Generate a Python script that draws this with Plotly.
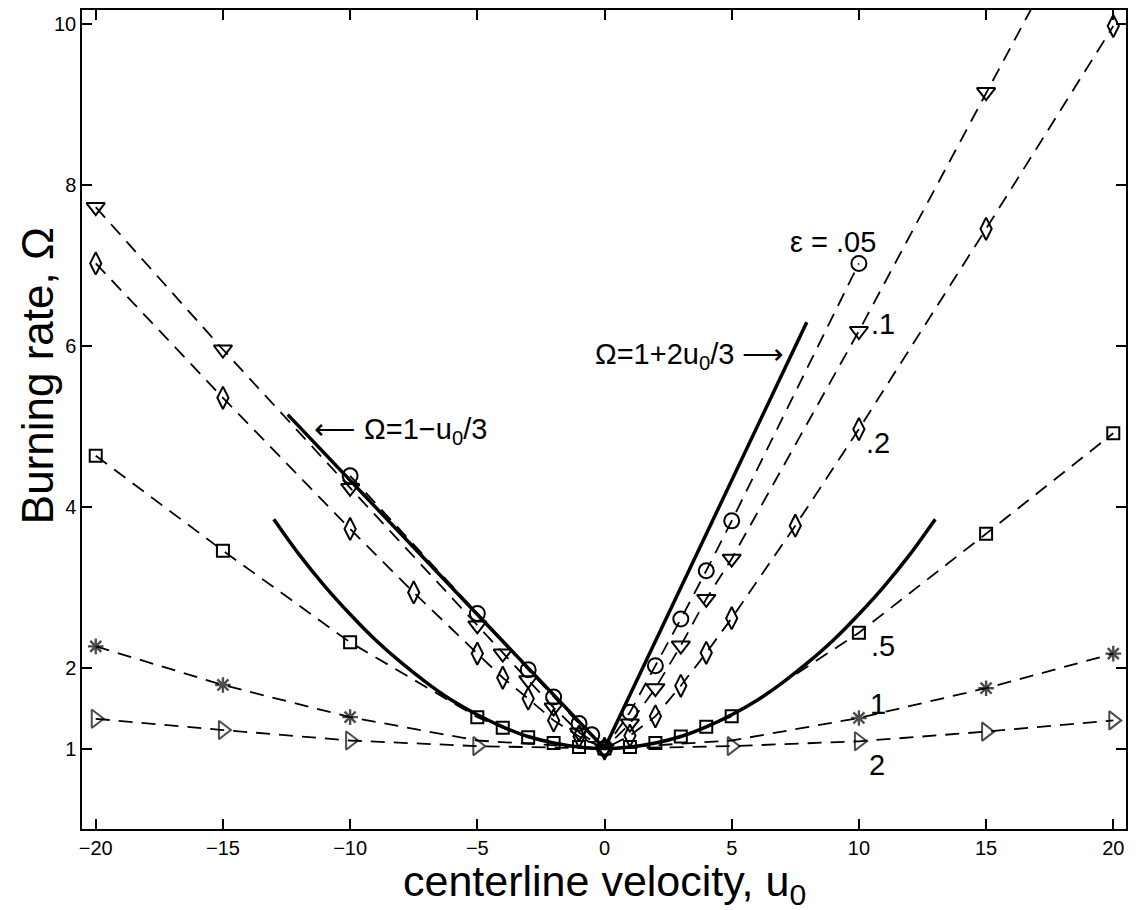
import plotly.graph_objects as go

# ---- data ----
u_e05 = [-10, -5, -3, -2, -1, -0.5, 0, 1, 2, 3, 4, 5, 10]
w_e05 = [4.39, 2.68, 1.98, 1.64, 1.31, 1.17, 1.0, 1.45, 2.03, 2.61, 3.21, 3.83, 7.03]

u_e1 = [-20, -15, -10, -5, -4, -3, -2, -1, 0, 1, 2, 3, 4, 5, 10, 15, 20]
w_e1 = [7.73, 5.96, 4.24, 2.53, 2.18, 1.85, 1.51, 1.20, 1.0, 1.31, 1.75, 2.28, 2.86, 3.36, 6.19, 9.16, 12.1]

u_e2 = [-20, -15, -10, -7.5, -5, -4, -3, -2, -1, 0, 1, 2, 3, 4, 5, 7.5, 10, 15, 20]
w_e2 = [7.03, 5.36, 3.73, 2.94, 2.18, 1.88, 1.62, 1.35, 1.15, 1.0, 1.16, 1.40, 1.78, 2.19, 2.62, 3.77, 4.97, 7.46, 9.98]

u_e5 = [-20, -15, -10, -5, -4, -3, -2, -1, 0, 1, 2, 3, 4, 5, 10, 15, 20]
w_e5 = [4.64, 3.46, 2.32, 1.39, 1.26, 1.14, 1.07, 1.02, 1.0, 1.02, 1.07, 1.15, 1.27, 1.40, 2.44, 3.67, 4.92]

u_e10 = [-20, -15, -10, -5, 0, 5, 10, 15, 20]
w_e10 = [2.27, 1.79, 1.39, 1.10, 1.0, 1.10, 1.38, 1.75, 2.18]
show_e10 = [1, 1, 1, 0, 0, 0, 1, 1, 1]

u_e20 = [-20, -15, -10, -5, 0, 5, 10, 15, 20]
w_e20 = [1.37, 1.23, 1.10, 1.03, 1.0, 1.03, 1.09, 1.21, 1.35]
show_e20 = [1, 1, 1, 1, 0, 1, 1, 1, 1]

# asymptotic lines and the small-epsilon curve
u_left = [-12.45, 0]
w_left = [5.15, 1.0]
u_right = [0, 7.95]
w_right = [1.0, 6.30]
u_par = [-13, -12, -11, -10, -9, -8, -7, -6, -5, -4, -3, -2, -1, 0,
         1, 2, 3, 4, 5, 6, 7, 8, 9, 10, 11, 12, 13]
w_par = [3.85, 3.41, 3.02, 2.67, 2.35, 2.07, 1.82, 1.60, 1.42, 1.27, 1.15, 1.07, 1.02, 1.0,
         1.02, 1.07, 1.15, 1.27, 1.42, 1.60, 1.82, 2.07, 2.35, 2.67, 3.02, 3.41, 3.85]

x_ticks = [-20, -15, -10, -5, 0, 5, 10, 15, 20]
y_ticks = [1, 2, 4, 6, 8, 10]

FONT = "Liberation Sans, Arial, Helvetica, sans-serif"

fig = go.Figure()

def dashed(u, w, symbol, size, sizes=None, mlw=2.0):
    s = size if sizes is None else [size * k for k in sizes]
    fig.add_trace(go.Scatter(
        x=u, y=w, mode="lines+markers",
        line=dict(color="black", width=1.8, dash="14px,9px"),
        marker=dict(symbol=symbol, size=s, color="black",
                    line=dict(color="black", width=mlw)),
        showlegend=False))

dashed(u_e20, w_e20, "triangle-right-open", 16, show_e20)
dashed(u_e10, w_e10, "asterisk-open", 13, show_e10, mlw=2.4)
dashed(u_e5, w_e5, "square-open", 12)
dashed(u_e2, w_e2, "diamond-tall-open", 16)
dashed(u_e1, w_e1, "triangle-down-open", 16)
dashed(u_e05, w_e05, "circle-open", 15)

for u, w, shape in [(u_left, w_left, "linear"), (u_right, w_right, "linear"),
                    (u_par, w_par, "spline")]:
    fig.add_trace(go.Scatter(x=u, y=w, mode="lines",
                             line=dict(color="black", width=3.5, shape=shape),
                             showlegend=False))

ann_font = dict(family=FONT, size=29, color="black")
annots = [
    dict(x=7.15, y=5.88, text="Ω=1+2u<sub>0</sub>/3 ⟶", xanchor="right"),
    dict(x=-11.5, y=4.95, text="⟵ Ω=1−u<sub>0</sub>/3", xanchor="left"),
    dict(x=7.2, y=7.30, text="ε = .05", xanchor="left"),
    dict(x=10.4, y=6.28, text=".1", xanchor="left"),
    dict(x=10.2, y=4.80, text=".2", xanchor="left"),
    dict(x=10.4, y=2.28, text=".5", xanchor="left"),
    dict(x=10.37, y=1.56, text="1", xanchor="left"),
    dict(x=10.3, y=0.79, text="2", xanchor="left"),
]
for a in annots:
    fig.add_annotation(xref="x", yref="y", showarrow=False, yanchor="middle",
                       font=ann_font, **a)

fig.add_annotation(xref="x", yref="paper", x=0, y=-0.0670, yanchor="middle",
                   xanchor="center", showarrow=False,
                   font=dict(family=FONT, size=43, color="black"),
                   text="centerline velocity, u<sub>0</sub>")
fig.add_annotation(xref="paper", yref="paper", x=-0.043, y=0.553, yanchor="middle",
                   xanchor="center", showarrow=False,
                   font=dict(family=FONT, size=44, color="black"),
                   textangle=-90, text="Burning rate, Ω")

axis_common = dict(showgrid=False, zeroline=False, showline=True, linecolor="black",
                   linewidth=1.5, mirror="ticks", ticks="inside", ticklen=10,
                   tickwidth=1.5, tickcolor="black",
                   tickfont=dict(family=FONT, size=20, color="black"))

fig.update_layout(
    width=1131, height=902,
    margin=dict(l=74, r=13, t=0, b=81),
    paper_bgcolor="white", plot_bgcolor="white",
    xaxis=dict(range=[-20.54, 20.5], tickvals=x_ticks, **axis_common),
    yaxis=dict(range=[0, 10.18], tickvals=y_ticks, **axis_common),
)

fig.write_html("out.html")
